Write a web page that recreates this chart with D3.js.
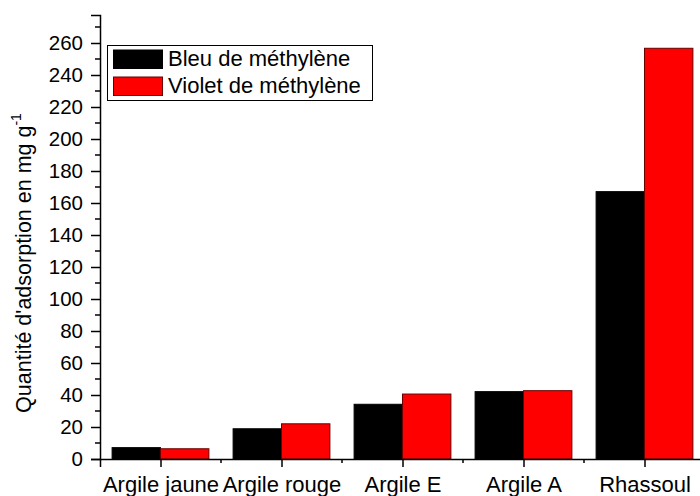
<!DOCTYPE html>
<html>
<head>
<meta charset="utf-8">
<script src="https://cdn.jsdelivr.net/npm/d3@7"></script>
<style>
  html, body { margin: 0; padding: 0; background: #fff; }
  svg { display: block; font-family: Arial, "Liberation Sans", sans-serif; }
</style>
</head>
<body>
<svg id="chart" width="700" height="496"></svg>
<script>
// Adsorption capacity of each clay for the two dyes (mg/g)
const categories = ["Argile jaune", "Argile rouge", "Argile E", "Argile A", "Rhassoul"];
const seriesNames = ["Bleu de méthylène", "Violet de méthylène"];
const bleuValues = [7.1, 18.9, 34.2, 42.1, 167.1];
const violetValues = [6.4, 22.0, 40.6, 42.7, 256.7];
const yTicks = [0, 20, 40, 60, 80, 100, 120, 140, 160, 180, 200, 220, 240, 260];
const colors = ["#000000", "#ff0000"];

const svg = d3.select("#chart");
const margin = { left: 100, top: 15, bottom: 37 };
const H = 496;
const y0 = H - margin.bottom;          // baseline pixel

// Category positions: index 1..5, axis spans 0.5 .. 5.5
const x = d3.scaleLinear().domain([0.5, 5.5]).range([margin.left, margin.left + 5 * 121]);
const y = d3.scaleLinear().domain([0, 277.5]).range([y0, margin.top]);

const barW = (x(2) - x(1)) * 0.4;
const seriesValues = [bleuValues, violetValues];

// Bars
seriesValues.forEach((vals, s) => {
  svg.append("g").selectAll("rect")
    .data(vals)
    .join("rect")
    .attr("x", (d, i) => x(i + 1) - barW + s * barW)
    .attr("y", d => y(d))
    .attr("width", barW)
    .attr("height", d => y(0) - y(d))
    .attr("fill", colors[s])
    .attr("stroke", s === 0 ? "#000" : "#6a0000")
    .attr("stroke-width", 1);
});

// Y axis
const yAxis = d3.axisLeft(y).tickValues(yTicks).tickSize(9).tickPadding(8).tickFormat(d3.format("d"));
const gy = svg.append("g").attr("transform", `translate(${margin.left},0)`).call(yAxis);
gy.select(".domain").attr("stroke-width", 1.5);
gy.selectAll(".tick line").attr("stroke-width", 1.5);
gy.selectAll("text").attr("font-size", 20.5).attr("fill", "#000");
// minor ticks
const yMinor = d3.range(10, 277, 20);
svg.append("g").selectAll("line").data(yMinor).join("line")
  .attr("x1", margin.left - 5).attr("x2", margin.left)
  .attr("y1", d => y(d)).attr("y2", d => y(d))
  .attr("stroke", "#000").attr("stroke-width", 1.5);

// X axis
const xAxis = d3.axisBottom(x).tickValues([1, 2, 3, 4, 5]).tickSize(8).tickPadding(9.5)
  .tickFormat(d => categories[d - 1]);
const gx = svg.append("g").attr("transform", `translate(0,${y0})`).call(xAxis);
gx.select(".domain").attr("stroke-width", 1.5);
gx.selectAll(".tick line").attr("stroke-width", 1.5);
gx.selectAll("text").attr("font-size", 22).attr("fill", "#000");
const xMinor = [1.5, 2.5, 3.5, 4.5];
svg.append("g").selectAll("line").data(xMinor).join("line")
  .attr("x1", d => x(d)).attr("x2", d => x(d))
  .attr("y1", y0).attr("y2", y0 + 4)
  .attr("stroke", "#000").attr("stroke-width", 1.5);

// Y axis title
const yt = svg.append("text")
  .attr("transform", `translate(31,263) rotate(-90)`)
  .attr("text-anchor", "middle")
  .attr("font-size", 21.5)
  .attr("fill", "#000");
yt.append("tspan").text("Quantité d'adsorption en mg g");
yt.append("tspan").attr("font-size", 14).attr("dy", -10).text("-1");

// Legend
const lg = svg.append("g");
lg.append("rect").attr("x", 107.5).attr("y", 45.5).attr("width", 265).attr("height", 55)
  .attr("fill", "#fff").attr("stroke", "#000").attr("stroke-width", 1);
seriesNames.forEach((name, i) => {
  const yy = 50 + i * 27;
  lg.append("rect").attr("x", 113.5).attr("y", yy).attr("width", 49).attr("height", 18.5)
    .attr("fill", colors[i]).attr("stroke", i === 0 ? "#000" : "#6a0000").attr("stroke-width", 1);
  lg.append("text").attr("x", 168).attr("y", yy + 16).attr("font-size", 22).attr("fill", "#000").text(name);
});
</script>
</body>
</html>
